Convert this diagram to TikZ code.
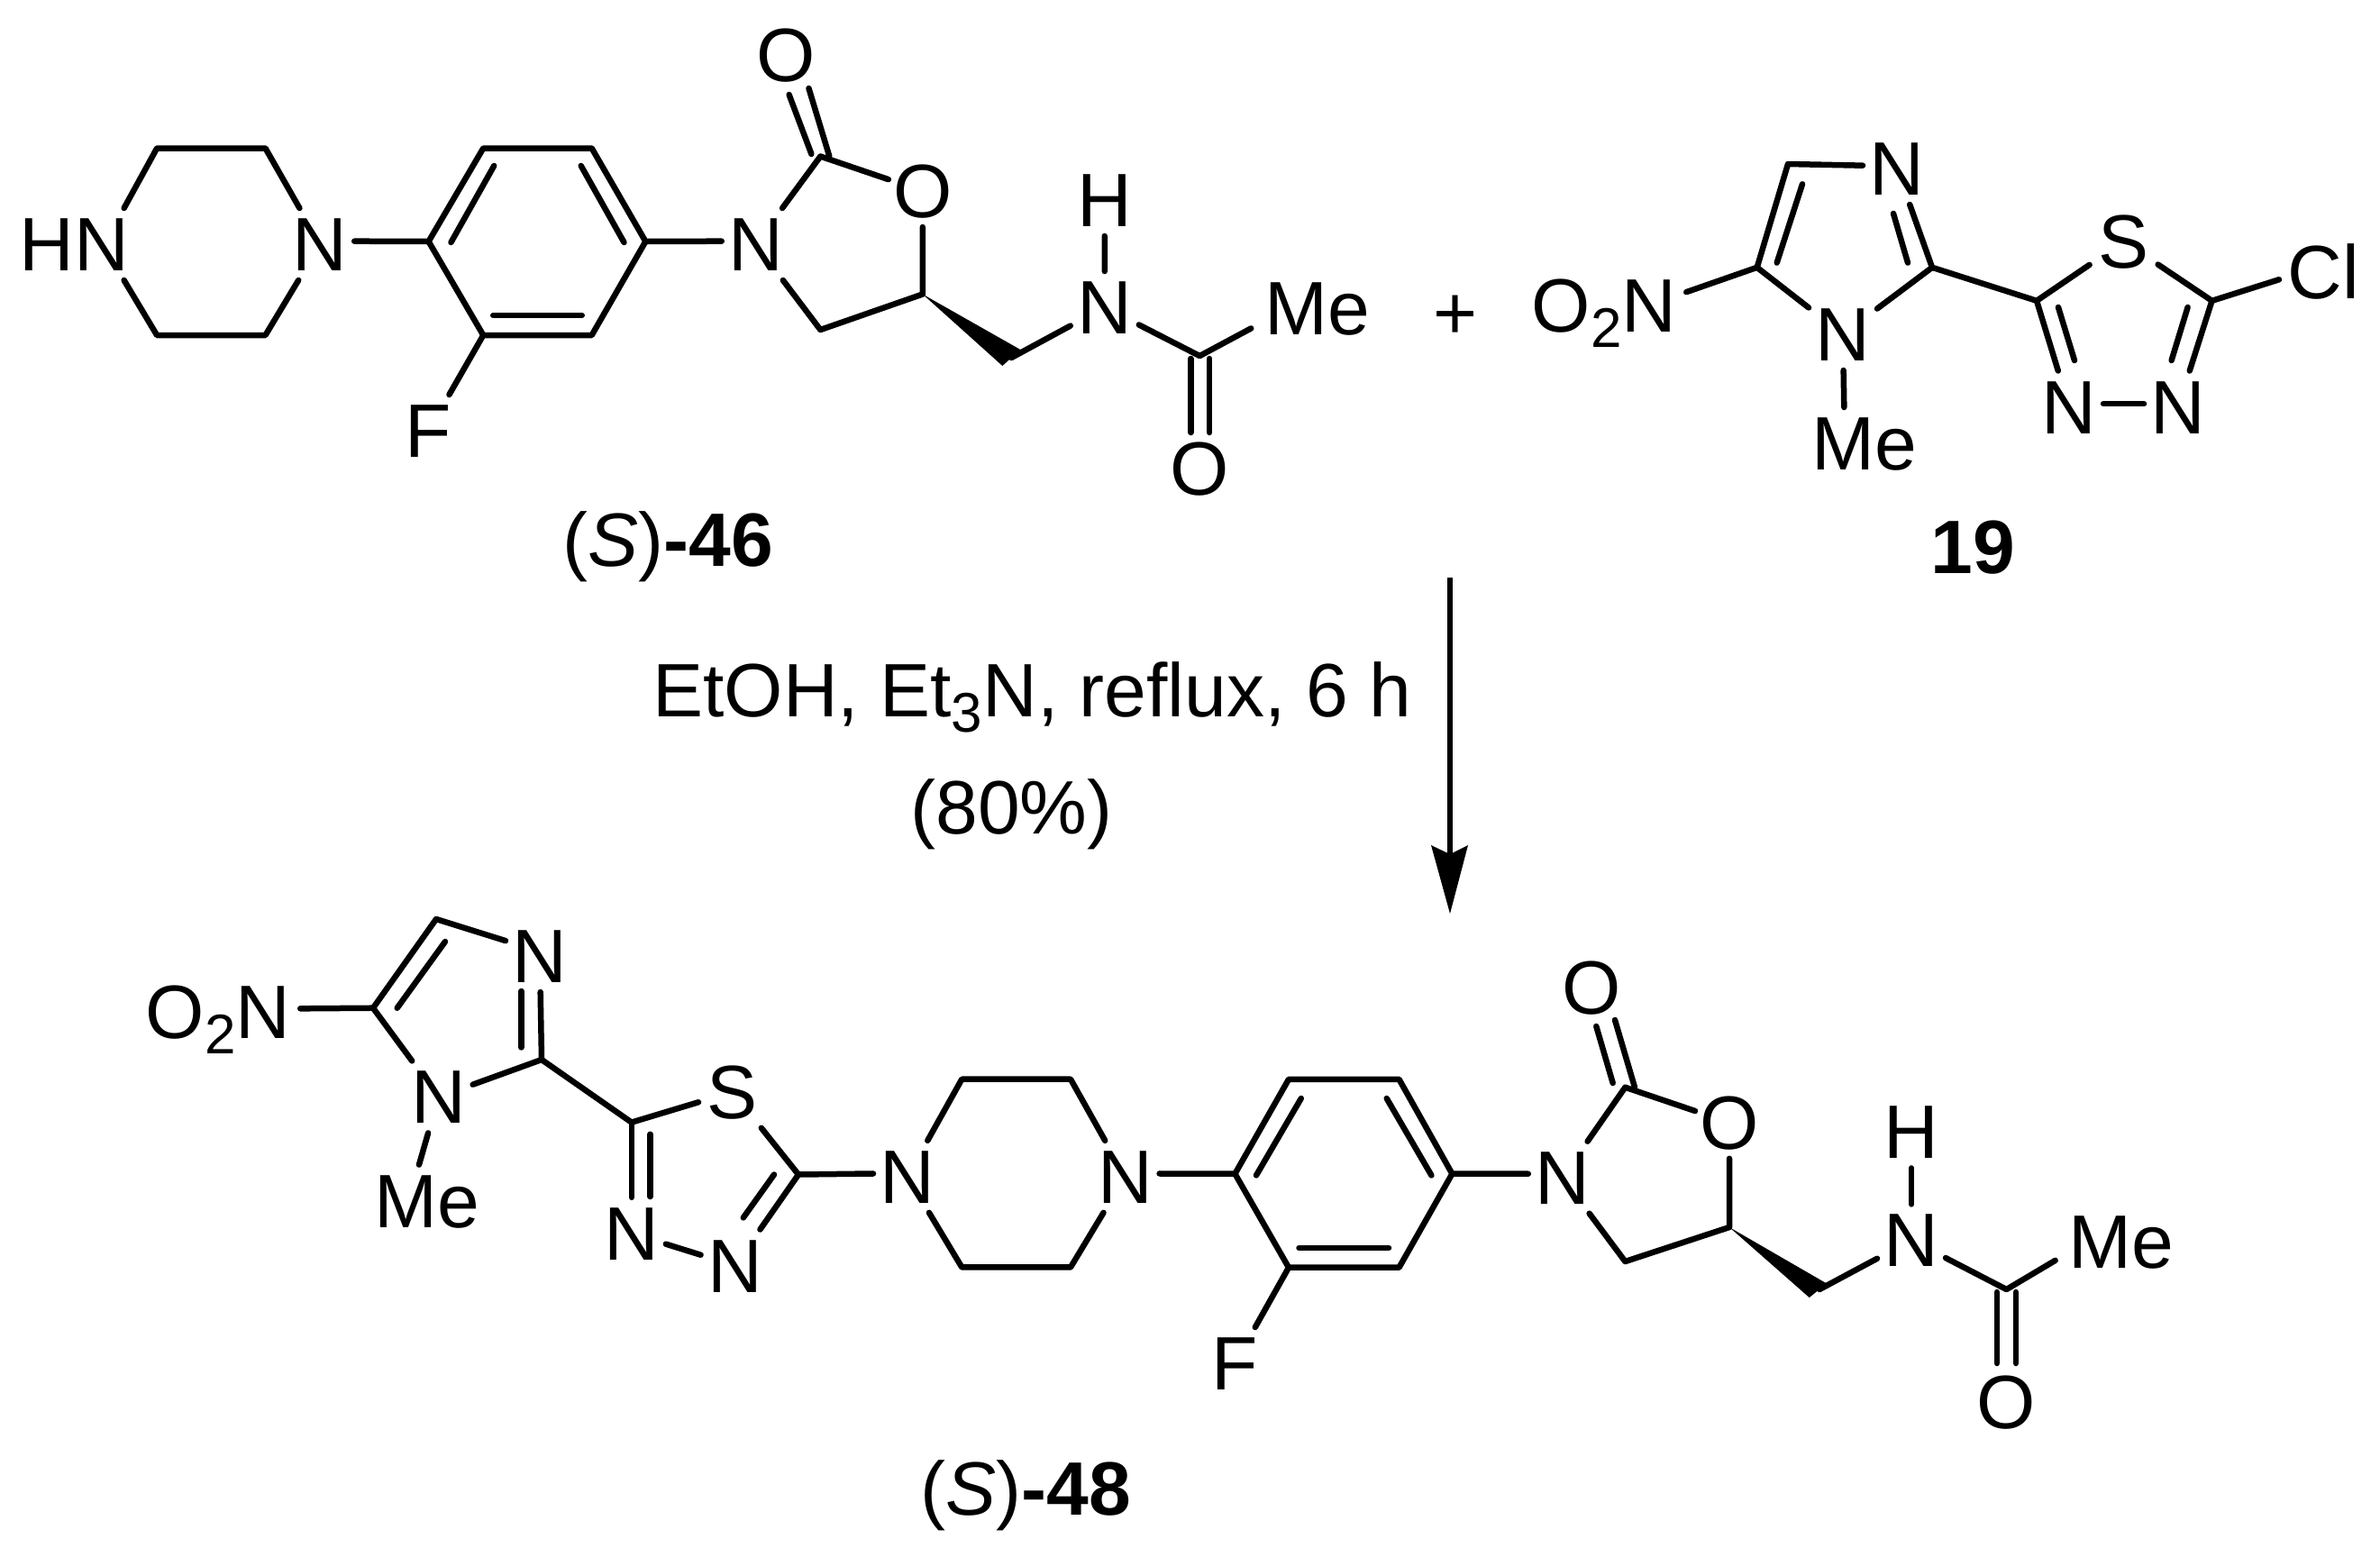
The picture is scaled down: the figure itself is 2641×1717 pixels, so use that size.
\documentclass[tikz,border=0pt]{standalone}
\usepackage{fontspec}
\setmainfont{Liberation Sans}
\newcommand{\chemsub}[1]{\raisebox{-17pt}{\fontsize{62}{62}\selectfont #1}}
\tikzset{
  lbl/.style={inner xsep=0pt,inner ysep=10.5pt,outer sep=0pt,text height=59pt,text depth=0pt,font=\fontsize{84}{90}\selectfont,text=black},
  atom/.style={lbl,minimum width=76pt},
  wide/.style={lbl,inner xsep=15pt},
  nitro/.style={lbl,inner xsep=11pt},
  bond/.style={line width=6.5pt,line cap=round,line join=round,draw=black},
}
\begin{document}
\begin{tikzpicture}[x=1pt,y=-1pt]
\useasboundingbox (0,0) rectangle (2641,1717);

%% ---------- (S)-46 ----------
\begin{scope}[xscale=0.995]
\node[wide] (a-hn) at (83,271) {HN};
\node[atom] (a-np) at (357,271) {N};
\node[atom] (a-f) at (478,478) {F};
\node[atom] (a-n2) at (843,271) {N};
\node[atom] (a-o1) at (877,61) {O};
\node[atom] (a-o2) at (1029,212) {O};
\node[atom] (a-h) at (1232,222) {H};
\node[atom] (a-n3) at (1232,341) {N};
\node[wide] (a-me) at (1469,342) {Me};
\node[atom] (a-o3) at (1338,520) {O};
\node[lbl] (a-name) at (745,599) {(\textit{S})\textbf{-46}};
\coordinate (a-p1) at (175,164.5);
\coordinate (a-p2) at (296,164.5);
\coordinate (a-p3) at (296,372);
\coordinate (a-p4) at (175,372);
\coordinate (a-r1) at (478,268);
\coordinate (a-r2) at (539,164.5);
\coordinate (a-r3) at (660,164.5);
\coordinate (a-r4) at (720,268);
\coordinate (a-r5) at (660,372);
\coordinate (a-r6) at (539,372);
\coordinate (a-i1) at (551,184);
\coordinate (a-i2) at (503,269);
\coordinate (a-i3) at (648,184);
\coordinate (a-i4) at (696,269);
\coordinate (a-i5) at (550,350);
\coordinate (a-i6) at (649,350);
\coordinate (a-c2) at (915,173.5);
\coordinate (a-c4) at (915,366);
\coordinate (a-c5) at (1029,326.5);
\coordinate (a-d1) at (880,105);
\coordinate (a-d2) at (905,171);
\coordinate (a-d3) at (902,98);
\coordinate (a-d4) at (925,173.5);
\coordinate (a-w1) at (1118,406);
\coordinate (a-w2) at (1138,388);
\coordinate (a-ch) at (1128,397);
\coordinate (a-ca) at (1338,395);
\coordinate (a-e1) at (1328,398);
\coordinate (a-e2) at (1328,480);
\coordinate (a-e3) at (1349,398);
\coordinate (a-e4) at (1349,480);
\draw[bond] (a-hn.36) -- (a-p1) -- (a-p2) -- (a-np);
\draw[bond] (a-hn.-36) -- (a-p4) -- (a-p3) -- (a-np);
\draw[bond] (a-np.5) -- (a-r1);
\draw[bond] (a-r1) -- (a-r2) -- (a-r3) -- (a-r4) -- (a-r5) -- (a-r6) -- cycle;
\draw[bond] (a-i1) -- (a-i2);
\draw[bond] (a-i3) -- (a-i4);
\draw[bond] (a-i5) -- (a-i6);
\draw[bond] (a-r6) -- (a-f);
\draw[bond] (a-r4) -- (a-n2.175);
\draw[bond] (a-n2) -- (a-c2) -- (a-o2);
\draw[bond] (a-d1) -- (a-d2);
\draw[bond] (a-d3) -- (a-d4);
\draw[bond] (a-n2) -- (a-c4) -- (a-c5) -- (a-o2);
\fill[black] (a-c5) -- (a-w1) -- (a-w2) -- cycle;
\draw[bond] (a-ch) -- (a-n3);
\draw[bond] (a-h) -- (a-n3);
\draw[bond] (a-n3) -- (a-ca) -- (a-me.197);
\draw[bond] (a-e1) -- (a-e2);
\draw[bond] (a-e3) -- (a-e4);
\end{scope}

%% ---------- plus ----------
\node[lbl] (plus) at (1615,347) {+};

%% ---------- 19 ----------
\node[nitro] (b-no) at (1780,338.6) {O\chemsub{2}N};
\node[atom] (b-n3) at (2105,187) {N};
\node[atom] (b-n1) at (2045,371) {N};
\node[wide] (b-me) at (2068.5,492) {Me};
\node[atom] (b-s) at (2356.6,268) {S};
\node[lbl,minimum width=98pt] (b-cl) at (2578,301.6) {Cl};
\node[atom] (b-n4) at (2296,451.5) {N};
\node[atom] (b-n5) at (2417,451.5) {N};
\node[lbl] (b-name) at (2189,607) {\textbf{19}};
\coordinate (b-c5) at (1949.7,296.8);
\coordinate (b-c4) at (1984,182);
\coordinate (b-c2) at (2144,296.8);
\coordinate (b-t1) at (2260,333.8);
\coordinate (b-t2) at (2454.5,333.8);
\coordinate (b-i1) at (2000,204.3);
\coordinate (b-i2) at (1971.7,291.6);
\coordinate (b-i3) at (2101,237);
\coordinate (b-i4) at (2117,291.6);
\coordinate (b-i5) at (2284,341);
\coordinate (b-i6) at (2302,400);
\coordinate (b-i7) at (2427.6,341);
\coordinate (b-i8) at (2409.6,400);
\draw[bond] (b-no.9.6) -- (b-c5) -- (b-c4) -- (b-n3.175);
\draw[bond] (b-c5) -- (b-n1);
\draw[bond] (b-n1) -- (b-c2) -- (b-n3);
\draw[bond] (b-i1) -- (b-i2);
\draw[bond] (b-i3) -- (b-i4);
\draw[bond] (b-n1) -- (b-me.119);
\draw[bond] (b-c2) -- (b-t1) -- (b-s);
\draw[bond] (b-s) -- (b-t2) -- (b-cl.190);
\draw[bond] (b-t1) -- (b-n4);
\draw[bond] (b-t2) -- (b-n5);
\draw[bond] (b-i5) -- (b-i6);
\draw[bond] (b-i7) -- (b-i8);
\draw[bond] (b-n4.5) -- (b-n5.175);

%% ---------- arrow and conditions ----------
\node[lbl] (cond1) at (1145.6,766) {EtOH, Et\chemsub{3}N, reflux, 6 h};
\node[lbl] (cond2) at (1122.6,895.5) {(80\%)};
\coordinate (ar-s) at (1609,641);
\coordinate (ar-n) at (1609,948);
\coordinate (ar-t) at (1609,1014);
\coordinate (ar-l) at (1588,938);
\coordinate (ar-r) at (1629,938);
\draw[line width=6pt,draw=black] (ar-s) -- (ar-n);
\fill[black] (ar-l) -- (ar-n) -- (ar-r) -- (ar-t) -- cycle;

%% ---------- (S)-48 ----------
\node[nitro] (c-no) at (242,1122.5) {O\chemsub{2}N};
\node[atom] (c-n3) at (599,1061) {N};
\node[atom] (c-n1) at (486.6,1217.4) {N};
\node[wide] (c-me1) at (473.5,1332.6) {Me};
\node[atom] (c-s) at (813,1211.8) {S};
\node[atom] (c-n4) at (700.8,1368.8) {N};
\node[atom] (c-n5) at (815.6,1404.5) {N};
\node[atom] (c-np1) at (1007,1305.8) {N};
\node[atom] (c-np2) at (1248.6,1305.8) {N};
\node[atom] (c-f) at (1370.4,1513) {F};
\node[atom] (c-n6) at (1733.8,1306.7) {N};
\node[atom] (c-o1) at (1766,1095.5) {O};
\node[atom] (c-o2) at (1919,1245.8) {O};
\node[atom] (c-h) at (2121,1256.4) {H};
\node[atom] (c-n7) at (2121,1376.4) {N};
\node[wide] (c-me2) at (2354,1377.8) {Me};
\node[atom] (c-o3) at (2226.5,1555.5) {O};
\node[lbl] (c-name) at (1138.5,1652) {(\textit{S})\textbf{-48}};
\coordinate (c-c5) at (414,1118.7);
\coordinate (c-c4) at (484,1020);
\coordinate (c-c2) at (601,1176);
\coordinate (c-i1) at (494,1045);
\coordinate (c-i2) at (440.7,1118.7);
\coordinate (c-i3) at (578.4,1100);
\coordinate (c-i4) at (578.4,1162.4);
\coordinate (c-t1) at (700.8,1245.6);
\coordinate (c-t2) at (886,1303.5);
\coordinate (c-i5) at (721.5,1258.8);
\coordinate (c-i6) at (721.5,1328);
\coordinate (c-i7) at (859,1303.5);
\coordinate (c-i8) at (824.8,1351.4);
\coordinate (c-p1) at (1067.3,1197.7);
\coordinate (c-p2) at (1188,1197.7);
\coordinate (c-p3) at (1188,1406.4);
\coordinate (c-p4) at (1067.3,1406.4);
\coordinate (c-r1) at (1370.4,1302.7);
\coordinate (c-r2) at (1430,1197.8);
\coordinate (c-r3) at (1552.5,1197.8);
\coordinate (c-r4) at (1611.4,1302.7);
\coordinate (c-r5) at (1552.5,1406.7);
\coordinate (c-r6) at (1430,1406.7);
\coordinate (c-j1) at (1443.8,1219);
\coordinate (c-j2) at (1394,1304.4);
\coordinate (c-j3) at (1538.7,1219);
\coordinate (c-j4) at (1588.4,1304.4);
\coordinate (c-j5) at (1441.5,1385);
\coordinate (c-j6) at (1541,1385);
\coordinate (c-x2) at (1803.4,1206.7);
\coordinate (c-x4) at (1803.4,1400);
\coordinate (c-x5) at (1919,1362);
\coordinate (c-d1) at (1771.3,1139);
\coordinate (c-d2) at (1789.7,1202);
\coordinate (c-d3) at (1792,1132);
\coordinate (c-d4) at (1814,1206.7);
\coordinate (c-w1) at (2007.7,1440);
\coordinate (c-w2) at (2026.9,1424.4);
\coordinate (c-ch) at (2019,1431);
\coordinate (c-ca) at (2226.5,1431);
\coordinate (c-e1) at (2216,1434);
\coordinate (c-e2) at (2216,1513);
\coordinate (c-e3) at (2237,1434);
\coordinate (c-e4) at (2237,1513);
\draw[bond] (c-no.2.4) -- (c-c5) -- (c-c4) -- (c-n3.156);
\draw[bond] (c-c5) -- (c-n1);
\draw[bond] (c-n1) -- (c-c2) -- (c-n3);
\draw[bond] (c-i1) -- (c-i2);
\draw[bond] (c-i3) -- (c-i4);
\draw[bond] (c-n1) -- (c-me1.102);
\draw[bond] (c-c2) -- (c-t1) -- (c-s);
\draw[bond] (c-s) -- (c-t2) -- (c-np1.175);
\draw[bond] (c-t1) -- (c-n4);
\draw[bond] (c-t2) -- (c-n5);
\draw[bond] (c-i5) -- (c-i6);
\draw[bond] (c-i7) -- (c-i8);
\draw[bond] (c-n4) -- (c-n5);
\draw[bond] (c-np1) -- (c-p1) -- (c-p2) -- (c-np2);
\draw[bond] (c-np1) -- (c-p4) -- (c-p3) -- (c-np2);
\draw[bond] (c-np2.5) -- (c-r1);
\draw[bond] (c-r1) -- (c-r2) -- (c-r3) -- (c-r4) -- (c-r5) -- (c-r6) -- cycle;
\draw[bond] (c-j1) -- (c-j2);
\draw[bond] (c-j3) -- (c-j4);
\draw[bond] (c-j5) -- (c-j6);
\draw[bond] (c-r6) -- (c-f);
\draw[bond] (c-r4) -- (c-n6.174);
\draw[bond] (c-n6) -- (c-x2) -- (c-o2);
\draw[bond] (c-d1) -- (c-d2);
\draw[bond] (c-d3) -- (c-d4);
\draw[bond] (c-n6) -- (c-x4) -- (c-x5) -- (c-o2);
\fill[black] (c-x5) -- (c-w1) -- (c-w2) -- cycle;
\draw[bond] (c-ch) -- (c-n7);
\draw[bond] (c-h) -- (c-n7);
\draw[bond] (c-n7) -- (c-ca) -- (c-me2.196.5);
\draw[bond] (c-e1) -- (c-e2);
\draw[bond] (c-e3) -- (c-e4);
\end{tikzpicture}
\end{document}
